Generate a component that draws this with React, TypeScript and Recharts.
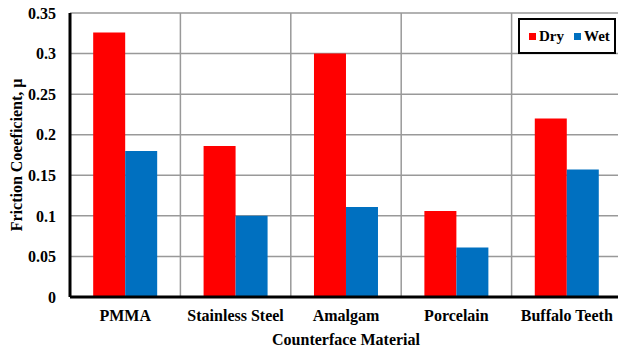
import React from 'react';
import { BarChart, Bar, XAxis, YAxis, CartesianGrid, Legend } from 'recharts';

const categories = ['PMMA', 'Stainless Steel', 'Amalgam', 'Porcelain', 'Buffalo Teeth'];
const dryValues = [0.326, 0.186, 0.3, 0.106, 0.22];
const wetValues = [0.18, 0.1, 0.111, 0.061, 0.157];
const yTicks = [0, 0.05, 0.1, 0.15, 0.2, 0.25, 0.3, 0.35];

const DRY = '#FF0000';
const WET = '#0070C0';
const FONT = "Liberation Serif, DejaVu Serif, serif";

const data = categories.map((name, i) => ({ name, Dry: dryValues[i], Wet: wetValues[i] }));

const textStyle = { fontFamily: FONT, fontWeight: 700, fontSize: '16px', fill: '#000' };
const tickStyle = { ...textStyle, style: textStyle };

const LegendBox = () => (
  <div
    style={{
      width: 94,
      height: 32,
      border: '2px solid #000',
      background: '#fff',
      display: 'flex',
      alignItems: 'center',
      fontFamily: FONT,
      fontWeight: 700,
      fontSize: 15,
      color: '#000',
      boxSizing: 'content-box',
    }}
  >
    <span style={{ width: 7, height: 7, background: DRY, marginLeft: 9, marginRight: 3 }} />
    <span>Dry</span>
    <span style={{ width: 7, height: 7, background: WET, marginLeft: 10, marginRight: 3 }} />
    <span>Wet</span>
  </div>
);

export default function App() {
  return (
    <div
      style={{
        position: 'absolute',
        left: 0,
        top: 0,
        width: 618,
        height: 348,
        overflow: 'hidden',
        background: '#fff',
        fontFamily: FONT,
      }}
    >
      <BarChart
        width={622}
        height={348}
        data={data}
        margin={{ top: 13, right: 0, bottom: 0, left: 0 }}
        barCategoryGap="21%"
        barGap={0}
        style={{ fontFamily: FONT }}
      >
        <CartesianGrid
          stroke="#999"
          strokeWidth={1.5}
          verticalCoordinatesGenerator={({ offset }: any) =>
            categories.slice(1).map((_, i) => offset.left + (offset.width * (i + 1)) / categories.length)
          }
        />
        <XAxis
          dataKey="name"
          height={51}
          tickLine={false}
          tickSize={0}
          tickMargin={13}
          tick={tickStyle}
          interval={0}
          axisLine={{ stroke: '#000', strokeWidth: 3 }}
          label={{
            value: 'Counterface Material',
            position: 'insideBottom',
            offset: 3,
            style: textStyle,
          }}
        />
        <XAxis
          xAxisId="top"
          dataKey="name"
          orientation="top"
          height={0}
          tick={false}
          tickLine={false}
          axisLine={{ stroke: '#000', strokeWidth: 3 }}
        />
        <YAxis
          width={70}
          domain={[0, 0.35]}
          ticks={yTicks}
          tickLine={false}
          tickSize={0}
          tickMargin={14}
          tick={tickStyle}
          axisLine={{ stroke: '#000', strokeWidth: 3 }}
          label={{
            value: 'Friction Coeeficient, μ',
            angle: -90,
            position: 'insideLeft',
            offset: 16,
            style: { ...textStyle, textAnchor: 'middle' },
          }}
        />
        <Legend
          layout="horizontal"
          verticalAlign="middle"
          content={() => <LegendBox />}
          wrapperStyle={{ position: 'absolute', left: 518, top: 18, width: 98, height: 36 }}
        />
        <Bar dataKey="Dry" fill={DRY} isAnimationActive={false} />
        <Bar dataKey="Wet" fill={WET} isAnimationActive={false} />
      </BarChart>
    </div>
  );
}
